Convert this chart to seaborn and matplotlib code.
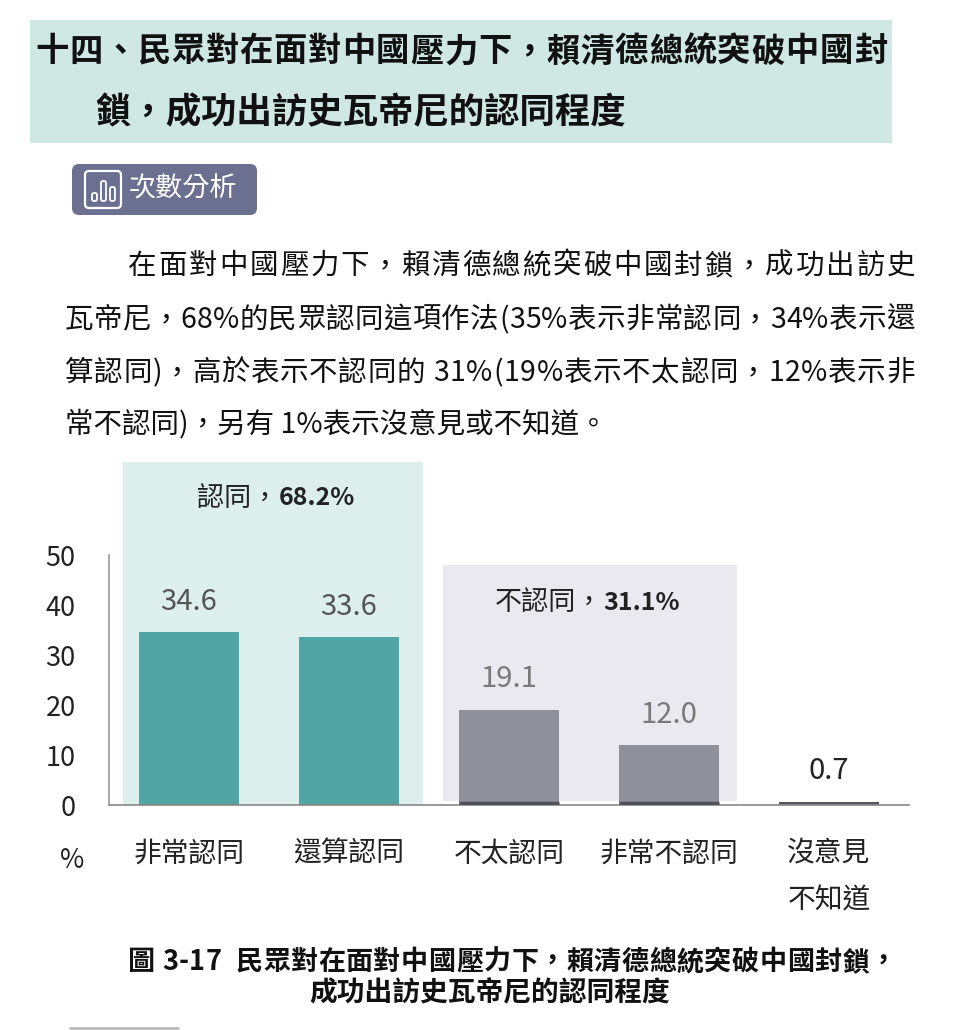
import numpy as np
import pandas as pd
import seaborn as sns
import matplotlib.pyplot as plt
from matplotlib.patches import Rectangle, FancyBboxPatch
from matplotlib.lines import Line2D

# data
categories = ['非常認同', '還算認同', '不太認同', '非常不認同', '沒意見\n不知道']
values = [34.6, 33.6, 19.1, 12.0, 0.7]
groups = ['認同', '認同', '不認同', '不認同', '其他']
yticks = [0, 10, 20, 30, 40, 50]

title1 = '十四、民眾對在面對中國壓力下，賴清德總統突破中國封'
title2 = '鎖，成功出訪史瓦帝尼的認同程度'
badge = '次數分析'
para = ['在面對中國壓力下，賴清德總統突破中國封鎖，成功出訪史',
        '瓦帝尼，68%的民眾認同這項作法(35%表示非常認同，34%表示還',
        '算認同)，高於表示不認同的 31%(19%表示不太認同，12%表示非',
        '常不認同)，另有 1%表示沒意見或不知道。']
caption1 = '圖 3-17  民眾對在面對中國壓力下，賴清德總統突破中國封鎖，'
caption2 = '成功出訪史瓦帝尼的認同程度'

bar_colors = ['#52a5a5', '#52a5a5', '#8f9099', '#8f9099', '#55565e']
label_colors = ['#555555', '#555555', '#7a7a7a', '#7a7a7a', '#222222']

sns.set_theme(style='white')
plt.rcParams['font.family'] = ['Noto Sans CJK TC', 'DejaVu Sans']

df = pd.DataFrame({'cat': categories, 'val': values, 'grp': groups})

fig = plt.figure(figsize=(9.6, 10.3), dpi=100)
renderer = fig.canvas.get_renderer()

# page decorations in pixel coordinates
bg = fig.add_axes([0, 0, 1, 1], zorder=0)
bg.set_xlim(0, 960)
bg.set_ylim(1030, 0)
bg.axis('off')


def justified(line, x0, x1, y, **kw):
    # spread the characters of one line evenly between x0 and x1
    texts = [bg.text(0, y, ch, va='center', **kw) for ch in line]
    widths = [t.get_window_extent(renderer).width for t in texts]
    gap = (x1 - x0 - sum(widths)) / (len(texts) - 1) if x1 else 0
    x = x0
    for t, w in zip(texts, widths):
        t.set_x(x)
        x += w + gap


bg.add_patch(Rectangle((30, 20), 862, 123, color='#cfe8e4', lw=0))
justified(title1, 35, 887, 52, fontsize=24, weight='bold', color='#111111')
bg.text(95, 113, title2, fontsize=25.5, weight='bold', va='center', color='#111111')

bg.add_patch(FancyBboxPatch((72, 164), 185, 51, boxstyle='round,pad=0,rounding_size=7',
                            color='#6c7090', lw=0))
bg.add_patch(FancyBboxPatch((85, 171), 36, 37, boxstyle='round,pad=0,rounding_size=4',
                            fill=False, ec='white', lw=1.6))
for bx, bh in [(92, 8), (101, 20), (110, 14)]:
    bg.add_patch(FancyBboxPatch((bx, 201 - bh), 5, bh, boxstyle='round,pad=0,rounding_size=2',
                                fill=False, ec='white', lw=1.3))
bg.text(129, 189, badge, fontsize=19.5, color='white', va='center')

para_y = [266, 320, 373, 424]
para_x = [128, 65, 65, 65]
para_end = [915, 915, 915, None]
for t, x, xe, y in zip(para, para_x, para_end, para_y):
    if xe:
        justified(t, x, xe, y, fontsize=20.5, color='#111111')
    else:
        bg.text(x, y, t, fontsize=20.5, va='center', color='#111111')

justified(caption1, 128, 897, 962, fontsize=19.5, weight='bold', color='#111111')
bg.text(490, 993, caption2, fontsize=20, weight='bold', ha='center', va='center', color='#111111')
bg.text(72, 860, '%', fontsize=19, ha='center', va='center', color='#222222')
bg.add_line(Line2D([70, 178], [1028, 1028], color='#bbbbbb', lw=2))

# chart
ax = fig.add_axes([109 / 960, (1030 - 805) / 1030, 800 / 960, 350 / 1030], zorder=1)
ax.patch.set_alpha(0)

ax.add_patch(Rectangle((-0.41, 0), 1.87, 68.6, color='#ddefed', lw=0, zorder=0))
ax.add_patch(Rectangle((1.59, 0.8), 1.835, 47.2, color='#e9e9ef', lw=0, zorder=0))

sns.barplot(data=df, x='cat', y='val', hue='cat', palette=bar_colors, width=0.63,
            saturation=1, legend=False, linewidth=0, ax=ax, zorder=2)

for i, cont in enumerate(ax.containers):
    for t in ax.bar_label(cont, fmt='%.1f', padding=11, fontsize=21):
        t.set_color(label_colors[i])
    # dark strip at the foot of the grey bars
    if groups[i] == '不認同':
        for p in cont:
            ax.hlines(0.35, p.get_x(), p.get_x() + p.get_width(), color='#4f5058', lw=2.5, zorder=3)

# group totals
agree = sum(v for v, g in zip(values, groups) if g == '認同')
disagree = sum(v for v, g in zip(values, groups) if g == '不認同')
ax.text(0.56, 61.4, '認同，', fontsize=19.5, ha='right', va='center', color='#222222')
ax.text(0.56, 61.4, f'{agree:.1f}%', fontsize=18, weight='bold', ha='left', va='center', color='#222222')
ax.text(2.59, 40.4, '不認同，', fontsize=19.5, ha='right', va='center', color='#222222')
ax.text(2.59, 40.4, f'{disagree:.1f}%', fontsize=18, weight='bold', ha='left', va='center', color='#222222')

ax.set_xlim(-0.5, 4.5)
ax.set_ylim(0, 70)
ax.set_yticks(yticks)
ax.set_xlabel('')
ax.set_ylabel('')
ax.tick_params(axis='y', length=0, pad=24, labelsize=19.5, labelcolor='#222222')
ax.tick_params(axis='x', length=0, pad=24, labelsize=20, labelcolor='#222222')
for t in ax.get_xticklabels():
    t.set_linespacing(1.75)
    t.set_verticalalignment('top')

for s in ['top', 'right']:
    ax.spines[s].set_visible(False)
ax.spines['left'].set_bounds(0, 50)
ax.spines['left'].set_color('#999999')
ax.spines['bottom'].set_color('#888888')
ax.spines['left'].set_linewidth(1.2)
ax.spines['bottom'].set_linewidth(1.2)

fig.savefig('out.png', dpi=100)
